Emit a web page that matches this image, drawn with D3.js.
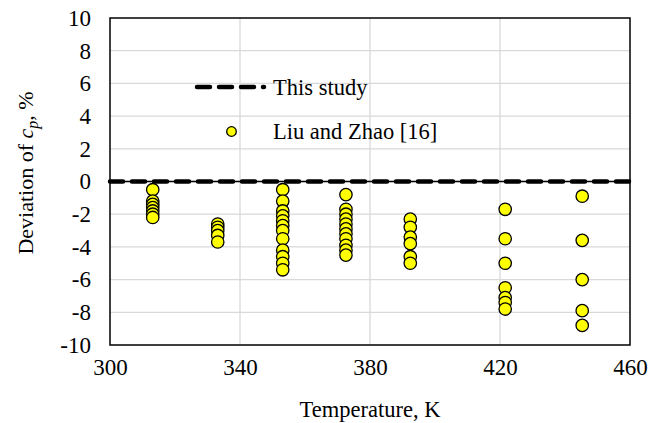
<!DOCTYPE html>
<html><head><meta charset="utf-8">
<script src="https://cdn.jsdelivr.net/npm/d3@7"></script>
<style>body{margin:0;background:#fff}svg{display:block}</style>
</head><body>
<svg id="c" width="666" height="423"></svg>
<script>
// Data
const temps = [313.15, 333.15, 353.15, 372.6, 392.4, 421.6, 445.3];
const devs = [
  [-0.5, -1.2, -1.4, -1.6, -1.8, -2.0, -2.2],
  [-2.6, -2.8, -3.0, -3.3, -3.7],
  [-0.5, -1.2, -1.8, -2.1, -2.4, -2.7, -3.0, -3.5, -4.2, -4.6, -5.0, -5.4],
  [-0.8, -1.7, -2.0, -2.3, -2.6, -2.9, -3.2, -3.5, -3.9, -4.2, -4.5],
  [-2.3, -2.8, -3.4, -3.8, -4.6, -5.0],
  [-1.7, -3.5, -5.0, -6.5, -7.1, -7.4, -7.8],
  [-0.9, -3.6, -6.0, -7.9, -8.8]
];
const xTicks = [300, 340, 380, 420, 460];
const yTicks = [-10, -8, -6, -4, -2, 0, 2, 4, 6, 8, 10];
const lineData = [300, 460];

const svg = d3.select("#c");
const L = 110, R = 630, T = 18, B = 345;
const x = d3.scaleLinear().domain([300, 460]).range([L, R]);
const y = d3.scaleLinear().domain([-10, 10]).range([B, T]);
const font = "'Liberation Serif', 'Times New Roman', serif";
const fmt = d => String(d); // hyphen-minus like the original

// grid
svg.append("g").selectAll("line").data(yTicks.filter(d => d !== -10 && d !== 10))
  .join("line").attr("x1", L).attr("x2", R).attr("y1", d => y(d)).attr("y2", d => y(d))
  .attr("stroke", "#d9d9d9").attr("stroke-width", 1.3);
svg.append("g").selectAll("line").data(xTicks.filter(d => d !== 300 && d !== 460))
  .join("line").attr("y1", T).attr("y2", B).attr("x1", d => x(d)).attr("x2", d => x(d))
  .attr("stroke", "#d9d9d9").attr("stroke-width", 1.3);

// frame
svg.append("rect").attr("x", L).attr("y", T).attr("width", R - L).attr("height", B - T)
  .attr("fill", "none").attr("stroke", "#000").attr("stroke-width", 1.5);

// axes
const xAxis = d3.axisBottom(x).tickValues(xTicks).tickSize(0).tickPadding(14).tickFormat(fmt);
const gx = svg.append("g").attr("transform", `translate(0,${B})`).call(xAxis);
gx.select(".domain").remove();
gx.selectAll("text").attr("font-family", font).attr("font-size", 23).attr("fill", "#000");

const yAxis = d3.axisLeft(y).tickValues(yTicks).tickSize(0).tickPadding(19).tickFormat(fmt);
const gy = svg.append("g").attr("transform", `translate(${L},0)`).call(yAxis);
gy.select(".domain").remove();
gy.selectAll("text").attr("font-family", font).attr("font-size", 23).attr("fill", "#000");

// zero line (This study)
const ln = d3.line().x(d => x(d)).y(() => y(0));
svg.append("path").attr("d", ln(lineData)).attr("stroke", "#000").attr("stroke-width", 1.5).attr("fill", "none");
svg.append("path").attr("d", ln(lineData)).attr("stroke", "#000").attr("stroke-width", 4.5)
  .attr("stroke-dasharray", "13,9").attr("stroke-linecap", "round").attr("fill", "none");

// points
const pts = [];
temps.forEach((t, i) => devs[i].forEach(v => pts.push({t, v})));
svg.append("g").selectAll("circle").data(pts).join("circle")
  .attr("cx", d => x(d.t)).attr("cy", d => y(d.v)).attr("r", 6.2)
  .attr("fill", "#ffff00").attr("stroke", "#000").attr("stroke-width", 1.3);

// legend
const lg = svg.append("g");
lg.append("line").attr("x1", 197).attr("x2", 264).attr("y1", 87).attr("y2", 87)
  .attr("stroke", "#000").attr("stroke-width", 4.5).attr("stroke-dasharray", "13,9").attr("stroke-linecap", "round");
lg.append("text").attr("x", 273).attr("y", 95).text("This study")
  .attr("font-family", font).attr("font-size", 22.5);
lg.append("circle").attr("cx", 231.5).attr("cy", 131.5).attr("r", 4.8)
  .attr("fill", "#ffff00").attr("stroke", "#000").attr("stroke-width", 1.3);
lg.append("text").attr("x", 273).attr("y", 139).text("Liu and Zhao [16]")
  .attr("font-family", font).attr("font-size", 22.5);

// axis titles
svg.append("text").attr("x", 370).attr("y", 417).attr("text-anchor", "middle")
  .attr("font-family", font).attr("font-size", 22.5).text("Temperature, K");
const yt = svg.append("text").attr("transform", `translate(33,173) rotate(-90)`)
  .attr("text-anchor", "middle").attr("font-family", font).attr("font-size", 22);
yt.append("tspan").text("Deviation of ");
yt.append("tspan").attr("font-style", "italic").text("c");
yt.append("tspan").attr("font-style", "italic").attr("font-size", 16).attr("dy", 5).text("p");
yt.append("tspan").attr("dy", -5).text(", %");
</script>
</body></html>
